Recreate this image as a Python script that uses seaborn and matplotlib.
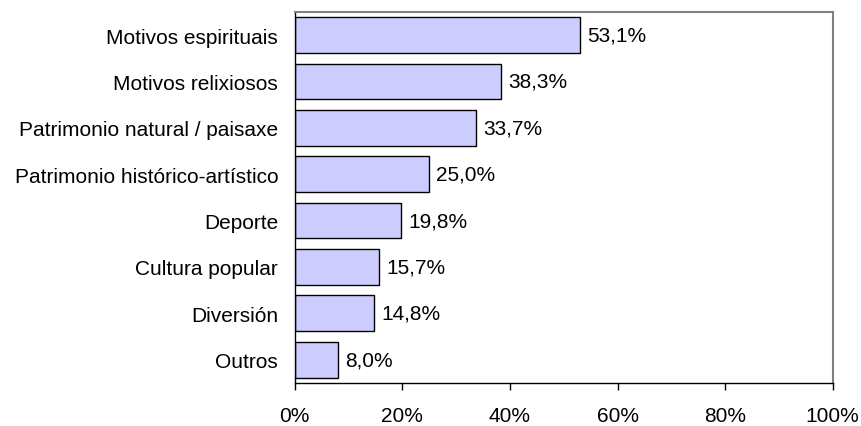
import matplotlib
matplotlib.use("Agg")
import matplotlib.pyplot as plt
import seaborn as sns
import pandas as pd

categories = [
    "Motivos espirituais",
    "Motivos relixiosos",
    "Patrimonio natural / paisaxe",
    "Patrimonio histórico-artístico",
    "Deporte",
    "Cultura popular",
    "Diversión",
    "Outros",
]
values = [53.1, 38.3, 33.7, 25.0, 19.8, 15.7, 14.8, 8.0]
x_ticks = [0, 20, 40, 60, 80, 100]

df = pd.DataFrame({"motivo": categories, "pct": values})

sns.set_style("white")
plt.rcParams["font.family"] = ["Liberation Sans", "DejaVu Sans"]
plt.rcParams["text.color"] = "black"
plt.rcParams["xtick.color"] = "black"
plt.rcParams["ytick.color"] = "black"

fig = plt.figure(figsize=(8.62, 4.27), dpi=100)
ax = fig.add_axes([0.342, 0.101, 0.624, 0.869])

sns.barplot(data=df, y="motivo", x="pct", orient="h", color="#CCCCFF",
            edgecolor="black", linewidth=1, width=0.77, saturation=1, ax=ax)

for i, v in enumerate(values):
    ax.annotate(f"{v:.1f}%".replace(".", ","), xy=(v, i), xytext=(5, 0),
                textcoords="offset points", va="center", ha="left",
                fontsize=15, color="black")

ax.set_xlim(0, 100)
ax.set_ylim(len(categories) - 0.5, -0.5)
ax.set_xticks(x_ticks)
ax.set_xticklabels([f"{t}%" for t in x_ticks], fontsize=15)
ax.tick_params(axis="x", bottom=True, direction="out", length=5, width=1,
               color="black", labelcolor="black", pad=12)
ax.tick_params(axis="y", left=False, length=0, labelsize=15, labelcolor="black", pad=12)
ax.set_xlabel("")
ax.set_ylabel("")

for side in ["left", "bottom"]:
    ax.spines[side].set_color("black")
    ax.spines[side].set_linewidth(1)
for side in ["top", "right"]:
    ax.spines[side].set_color("#808080")
    ax.spines[side].set_linewidth(1.5)

fig.savefig("out.png", dpi=100)
